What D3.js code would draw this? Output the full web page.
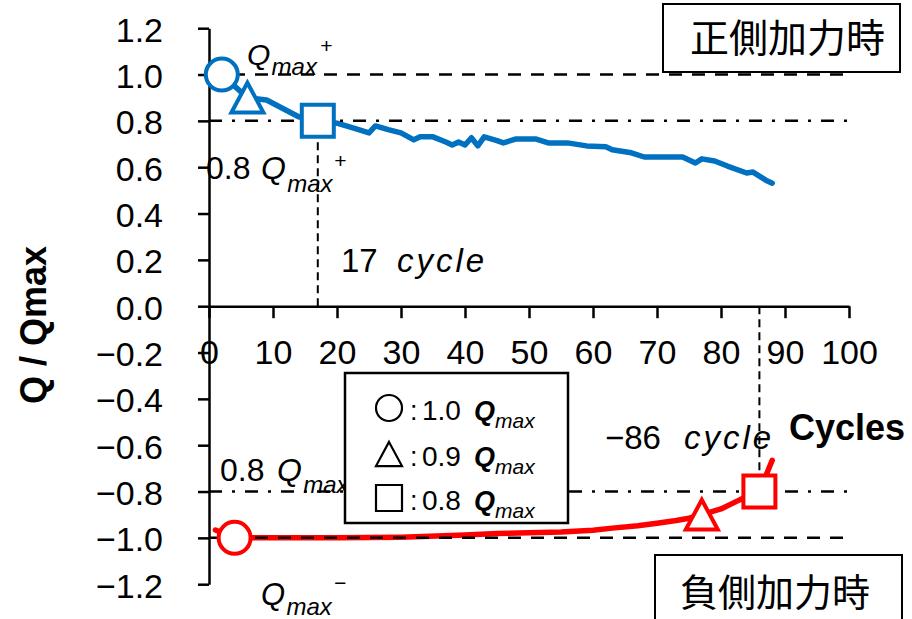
<!DOCTYPE html>
<html>
<head>
<meta charset="utf-8">
<script src="https://cdn.jsdelivr.net/npm/d3@7"></script>
<style>
  html, body { margin: 0; padding: 0; background: #fff; }
  svg { display: block; }
  text { font-family: "Liberation Sans", Arial, sans-serif; fill: #000; }
  .cjk { font-family: "Noto Sans CJK JP", "Noto Sans CJK SC", sans-serif; }
</style>
</head>
<body>
<svg id="chart" width="912" height="619"></svg>
<script>
// Normalised load Q/Qmax versus loading cycle, positive and negative loading sides
const xTicks = [0, 10, 20, 30, 40, 50, 60, 70, 80, 90, 100];
const yTicks = [-1.2, -1.0, -0.8, -0.6, -0.4, -0.2, 0.0, 0.2, 0.4, 0.6, 0.8, 1.0, 1.2];

// positive side (blue)
const posCycles = [2, 4, 6, 9, 14, 17, 20, 23, 25, 26, 28, 30, 32, 33, 35, 37, 38, 39, 40, 41, 42, 43, 45, 46, 48, 51, 53, 56, 59, 62, 63, 66, 68, 71, 74, 76, 77, 79, 81, 84, 85, 87, 88];
const posValues = [1.00, 0.95, 0.90, 0.89, 0.818, 0.80, 0.79, 0.765, 0.748, 0.778, 0.762, 0.748, 0.718, 0.731, 0.731, 0.709, 0.696, 0.709, 0.696, 0.727, 0.692, 0.731, 0.715, 0.705, 0.722, 0.722, 0.705, 0.705, 0.692, 0.688, 0.675, 0.662, 0.644, 0.644, 0.644, 0.618, 0.636, 0.627, 0.605, 0.575, 0.579, 0.544, 0.531];

// negative side (red)
const negCycles = [1, 4, 10, 20, 30, 40, 45, 50, 55, 60, 63, 67, 70, 73, 75, 77, 80, 83, 86, 88];
const negValues = [-0.966, -1.0, -1.0, -1.0, -0.997, -0.988, -0.981, -0.978, -0.975, -0.967, -0.958, -0.948, -0.937, -0.925, -0.915, -0.90, -0.875, -0.835, -0.80, -0.665];

// characteristic points: 1.0, 0.9 and 0.8 Qmax
const markerShapes = ["circle", "triangle", "square"];
const markerFactors = ["1.0", "0.9", "0.8"];
const posMarkerCycles = [2, 6, 17];
const posMarkerValues = [1.0, 0.9, 0.8];
const negMarkerCycles = [4, 77, 86];
const negMarkerValues = [-1.0, -0.9, -0.8];

const refLevels = [1.0, 0.8, -0.8, -1.0];
const refStyles = ["dash", "dashdot", "dashdot", "dash"];

const BLUE = "#0070C0", RED = "#FF0000";

const svg = d3.select("#chart");
const x = d3.scaleLinear().domain([0, 100]).range([209, 849]);
const y = d3.scaleLinear().domain([-1.2, 1.2]).range([584.2, 28.2]);

// axes
const yAxis = svg.append("g")
  .attr("transform", `translate(${x(0)},0)`)
  .call(d3.axisLeft(y).tickValues(yTicks).tickFormat(d3.format(".1f"))
    .tickSize(11).tickSizeOuter(0).tickPadding(35));
const xAxis = svg.append("g")
  .attr("transform", `translate(0,${y(0)})`)
  .call(d3.axisBottom(x).tickValues(xTicks).tickFormat(d3.format("d"))
    .tickSize(12).tickSizeOuter(0).tickPadding(22));
[yAxis, xAxis].forEach(g => {
  g.select(".domain").attr("stroke", "#000").attr("stroke-width", 2.5);
  g.selectAll(".tick line").attr("stroke", "#000").attr("stroke-width", 2.5);
  g.selectAll(".tick text").attr("fill", "#000")
    .style("font-family", '"Liberation Sans", Arial, sans-serif').style("font-size", "34px");
  g.attr("font-size", null).attr("font-family", null);
});
yAxis.selectAll(".tick text").attr("dy", "0.38em");

// series lines
const line = d3.line().x(d => x(d[0])).y(d => y(d[1]));
svg.append("path").datum(d3.zip(posCycles, posValues))
  .attr("d", line).attr("fill", "none").attr("stroke", BLUE)
  .attr("stroke-width", 5.5).attr("stroke-linejoin", "round").attr("stroke-linecap", "round");
svg.append("path").datum(d3.zip(negCycles, negValues))
  .attr("d", line).attr("fill", "none").attr("stroke", RED)
  .attr("stroke-width", 5.5).attr("stroke-linejoin", "round").attr("stroke-linecap", "round");

// reference levels
svg.append("g").selectAll("line").data(refLevels).join("line")
  .attr("x1", x(0)).attr("x2", x(100))
  .attr("y1", d => y(d)).attr("y2", d => y(d))
  .attr("stroke", "#000").attr("stroke-width", 2.5)
  .attr("stroke-dasharray", (d, i) => refStyles[i] === "dash" ? "13,10" : "13,10,3,10");

// cycle at 0.8 Qmax on each side
svg.append("line")
  .attr("x1", x(posMarkerCycles[2])).attr("x2", x(posMarkerCycles[2]))
  .attr("y1", y(0)).attr("y2", y(posMarkerValues[2]))
  .attr("stroke", "#000").attr("stroke-width", 2).attr("stroke-dasharray", "8,5");
svg.append("line")
  .attr("x1", x(negMarkerCycles[2])).attr("x2", x(negMarkerCycles[2]))
  .attr("y1", y(0)).attr("y2", y(negMarkerValues[2]))
  .attr("stroke", "#000").attr("stroke-width", 2).attr("stroke-dasharray", "8,5");

function markerPath(shape, s) {
  if (shape === "circle") {
    const r = s / 2;
    return `M${-r},0A${r},${r} 0 1,0 ${r},0A${r},${r} 0 1,0 ${-r},0Z`;
  }
  if (shape === "triangle") {
    const w = s, h = s * 0.93;
    return `M0,${-h / 2}L${w / 2},${h / 2}L${-w / 2},${h / 2}Z`;
  }
  const h = s / 2;
  return `M${-h},${-h}H${h}V${h}H${-h}Z`;
}

function drawMarkers(cycles, values, color) {
  svg.append("g").selectAll("path").data(d3.range(cycles.length)).join("path")
    .attr("transform", i => `translate(${x(cycles[i])},${y(values[i])})`)
    .attr("d", i => markerPath(markerShapes[i], 32))
    .attr("fill", "#fff").attr("stroke", color).attr("stroke-width", 4);
}
drawMarkers(posMarkerCycles, posMarkerValues, BLUE);
drawMarkers(negMarkerCycles, negMarkerValues, RED);

// Q_max style label: optional prefix, italic Q, subscript "max", optional superscript
function qLabel(opts) {
  const g = svg.append("g");
  if (opts.prefix) {
    g.append("text").attr("x", opts.px).attr("y", opts.base)
      .style("font-size", opts.qSize + "px").text(opts.prefix);
  }
  g.append("text").attr("x", opts.qx).attr("y", opts.base)
    .style("font-size", opts.qSize + "px").style("font-style", "italic").text("Q");
  g.append("text").attr("x", opts.qx + opts.qSize * 0.82).attr("y", opts.base + opts.subDrop)
    .style("font-size", opts.subSize + "px").style("font-style", "italic").text("max");
  if (opts.sup) {
    g.append("text").attr("x", opts.supX).attr("y", opts.supY)
      .style("font-size", "21px").style("font-style", "italic").text(opts.sup);
  }
  return g;
}

qLabel({ qx: 247, base: 65, qSize: 30, subSize: 24, subDrop: 10, sup: "+", supX: 320, supY: 53 });
qLabel({ prefix: "0.8", px: 206, qx: 261, base: 179, qSize: 32, subSize: 24, subDrop: 13, sup: "+", supX: 334, supY: 168 });
qLabel({ prefix: "0.8", px: 220, qx: 277, base: 481, qSize: 32, subSize: 24, subDrop: 12 });
qLabel({ qx: 261, base: 605, qSize: 31, subSize: 24, subDrop: 10, sup: "\u2212", supX: 334, supY: 590 });

// cycle annotations
function cycleLabel(num, nx, cx, base) {
  const g = svg.append("g");
  g.append("text").attr("x", nx).attr("y", base).style("font-size", "33px").text(num);
  g.append("text").attr("x", cx).attr("y", base).style("font-size", "33px")
    .style("font-style", "italic").style("letter-spacing", "3px").text("cycle");
}
cycleLabel(String(posMarkerCycles[2]), 341, 397, 272);
cycleLabel("\u2212" + negMarkerCycles[2], 605, 684, 449);

// axis titles
svg.append("text").attr("x", 789).attr("y", 440)
  .style("font-size", "36px").style("font-weight", "bold").text("Cycles");
svg.append("text").attr("transform", "translate(46,325) rotate(-90)")
  .attr("text-anchor", "middle")
  .style("font-size", "36px").style("font-weight", "bold").text("Q / Qmax");

// legend
const legend = svg.append("g");
legend.append("rect").attr("x", 345).attr("y", 373).attr("width", 223).attr("height", 150)
  .attr("fill", "#fff").attr("stroke", "#000").attr("stroke-width", 2.5);
const rowY = [408, 454, 498];
markerShapes.forEach((shape, i) => {
  legend.append("path").attr("transform", `translate(389,${rowY[i]})`)
    .attr("d", markerPath(shape, 26)).attr("fill", "none")
    .attr("stroke", "#000").attr("stroke-width", 2.2);
  const base = rowY[i] + 12;
  legend.append("text").attr("x", 410).attr("y", base).style("font-size", "27px")
    .style("font-weight", "300").text(":");
  legend.append("text").attr("x", 422).attr("y", base).style("font-size", "28px")
    .style("font-weight", "300").text(markerFactors[i]);
  legend.append("text").attr("x", 474).attr("y", base).style("font-size", "27px")
    .style("font-style", "italic").style("font-weight", "bold").text("Q");
  legend.append("text").attr("x", 495).attr("y", base + 8).style("font-size", "21px")
    .style("font-style", "italic").text("max");
});

// loading-side tags
svg.append("rect").attr("x", 663).attr("y", 4).attr("width", 237).attr("height", 68)
  .attr("fill", "#fff").attr("stroke", "#000").attr("stroke-width", 2);
svg.append("text").attr("class", "cjk").attr("x", 690).attr("y", 52)
  .style("font-size", "39px").text("正側加力時");
svg.append("rect").attr("x", 655).attr("y", 555).attr("width", 247).attr("height", 80)
  .attr("fill", "#fff").attr("stroke", "#000").attr("stroke-width", 2);
svg.append("text").attr("class", "cjk").attr("x", 680).attr("y", 606)
  .style("font-size", "38px").text("負側加力時");
</script>
</body>
</html>
